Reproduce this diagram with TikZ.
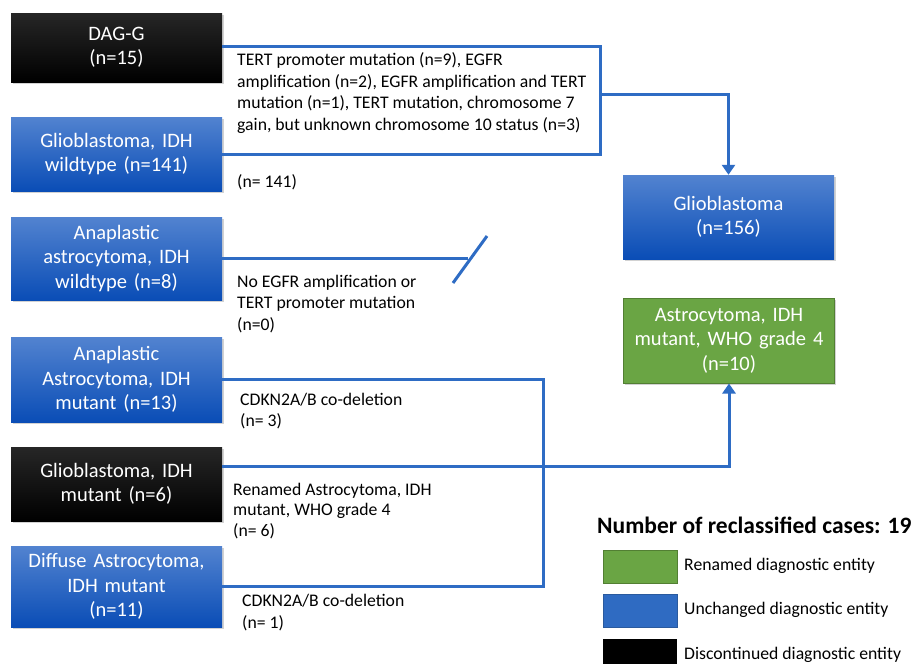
\documentclass[tikz,border=0pt]{standalone}
\usepackage{fontspec}
\setmainfont{Carlito}
\usetikzlibrary{arrows.meta,shadows}
\definecolor{flowblue}{HTML}{2E6CC4}
\definecolor{boxtop}{HTML}{5283D0}
\definecolor{boxbot}{HTML}{0A4DB6}
\definecolor{grfill}{HTML}{6AA544}
\definecolor{grdraw}{HTML}{527F33}
\definecolor{lgblue}{HTML}{2F6BC2}
\definecolor{lgbluedraw}{HTML}{2A5A9E}
\begin{document}
\begin{tikzpicture}[x=1pt,y=-1pt,
  entity/.style={rectangle, minimum width=211pt, text width=205pt, align=center, inner sep=0pt, text=white,
    font=\fontsize{20.5}{24.5}\selectfont,
    drop shadow={shadow xshift=1.5pt, shadow yshift=-2pt, opacity=0.35}},
  unchanged/.style={entity, top color=boxtop, bottom color=boxbot},
  discont/.style={entity, top color=black!85, bottom color=black},
  renamed/.style={entity, fill=grfill, draw=grdraw, line width=1pt},
  flow/.style={draw=flowblue, line width=3pt},
  arr/.style={flow, -{Triangle[width=13pt,length=10pt]}},
  lbl/.style={anchor=west, align=left, inner sep=0pt, font=\fontsize{17.7}{21.5}\selectfont, text=black},
  legbox/.style={rectangle, minimum width=74pt, minimum height=33pt, inner sep=0pt, line width=1pt},
]
\useasboundingbox (0,0) rectangle (913,664);
\fill[white] (0,0) rectangle (913,664);

% entity boxes
\node[discont, minimum height=69pt] (dag) at (116.5,47.5) {DAG-G\\(n=15)};
\node[unchanged, minimum height=74pt] (gbmwt) at (116.5,154) {Glioblastoma, IDH\\wildtype (n=141)};
\node[unchanged, minimum height=83pt] (aawt) at (116.5,258.5) {Anaplastic\\astrocytoma, IDH\\wildtype (n=8)};
\node[unchanged, minimum height=85pt] (aamut) at (116.5,379.5) {Anaplastic\\Astrocytoma, IDH\\mutant (n=13)};
\node[discont, minimum height=74pt] (gbmmut) at (116.5,484) {Glioblastoma, IDH\\mutant (n=6)};
\node[unchanged, minimum height=81pt] (diff) at (116.5,586.5) {Diffuse Astrocytoma,\\IDH mutant\\(n=11)};
\node[unchanged, minimum height=84pt] (gbm) at (728.5,217) {Glioblastoma\\(n=156)};
\node[renamed, minimum height=85pt] (astro) at (729,340.5) {Astrocytoma, IDH\\mutant, WHO grade 4\\(n=10)};

% connectors
\coordinate (rtr) at (600,46);
\coordinate (rbr) at (600,154);
\coordinate (rmid) at (600,94);
\draw[flow] (dag.east |- rtr) -- (rtr) -- (rbr) -- (gbmwt.east |- rbr);
\draw[arr] (rmid) -| (gbm.north);

\coordinate (cutend) at (468,0);
\draw[flow] (aawt.east) -- (aawt.east -| cutend);
\coordinate (sl1) at (453,283);
\coordinate (sl2) at (487,236);
\draw[flow] (sl1) -- (sl2);

\coordinate (vx) at (543,0);
\draw[flow] (aamut.east) -| (vx |- diff.east) -- (diff.east);
\draw[arr] ([yshift=18pt]gbmmut.east) -| (astro.south);

% labels
\node[lbl] (t1) at (237,93) {TERT promoter mutation (n=9), EGFR\\amplification (n=2), EGFR amplification and TERT\\mutation (n=1), TERT mutation, chromosome 7\\gain, but unknown chromosome 10 status (n=3)};
\node[lbl] (t2) at (237,182) {(n= 141)};
\node[lbl] (t3) at (237,304) {No EGFR amplification or\\TERT promoter mutation\\(n=0)};
\node[lbl] (t4) at (240,411) {CDKN2A/B co-deletion\\(n= 3)};
\node[lbl, font=\fontsize{17.7}{20.5}\selectfont] (t5) at (233,511) {Renamed Astrocytoma, IDH\\mutant, WHO grade 4\\(n= 6)};
\node[lbl] (t6) at (242,612.5) {CDKN2A/B co-deletion\\(n= 1)};

% legend
\node[anchor=west, inner sep=0pt, font=\fontsize{23.5}{28}\selectfont\bfseries] (lgt) at (597,525) {Number of reclassified cases: 19};
\node[legbox, fill=grfill, draw=grdraw] (lg1) at (640,566.5) {};
\node[legbox, fill=lgblue, draw=lgbluedraw] (lg2) at (640,610.5) {};
\node[legbox, fill=black, minimum height=34pt] (lg3) at (640,656) {};
\node[lbl] (lt1) at (684,566) {Renamed diagnostic entity};
\node[lbl] (lt2) at (684,610) {Unchanged diagnostic entity};
\node[lbl] (lt3) at (684,655) {Discontinued diagnostic entity};
\end{tikzpicture}
\end{document}
